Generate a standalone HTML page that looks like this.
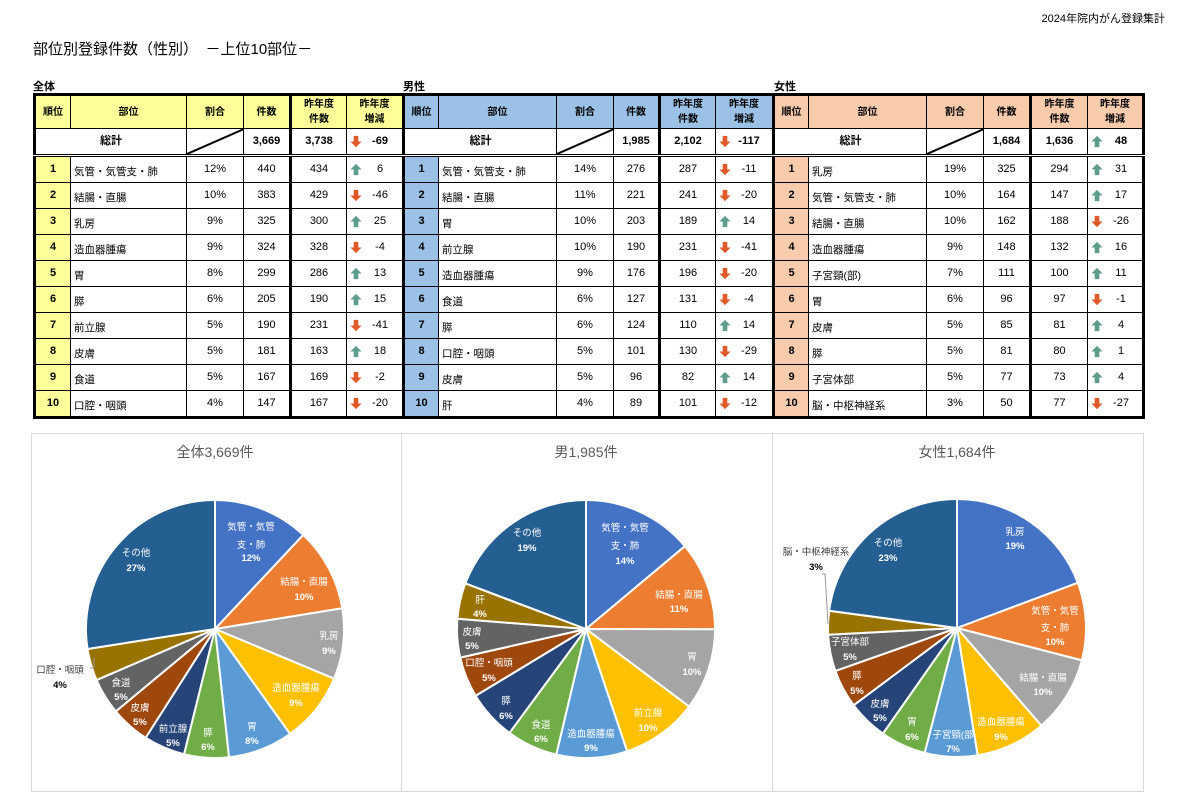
<!DOCTYPE html>
<html><head><meta charset="utf-8">
<style>
body{margin:0;width:1180px;height:799px;background:#fff;position:relative;overflow:hidden;font-family:"Liberation Sans","Noto Sans CJK JP",sans-serif;color:#000}
.a{position:absolute;white-space:nowrap}
table{position:absolute;left:33px;top:93px;border-collapse:collapse;table-layout:fixed;font-size:10px}
td{border:1px solid #000;padding:0;text-align:center;overflow:hidden;white-space:nowrap;line-height:13px}
tr.h td{height:32px;font-weight:bold;line-height:15px}
tr.t td{height:25px;font-weight:bold;font-size:11px}
tr.r td{height:25px;font-size:11px}
tr.r td.n{text-align:left;padding-left:3px;padding-top:6px;height:19px;font-size:10.5px}
tr.r1 td{border-top:3px double #000}
td.bl{border-left:3px solid #000}
td.c1{background:#FFFF99}td.c2{background:#9BC2E6}td.c3{background:#F8CBAD}
td.b{font-weight:bold}
.up,.dn{display:inline-block;width:14px;height:13px;vertical-align:middle}
td.d{text-align:left;padding-left:2px}
td.d span.v{display:inline-block;width:34px;text-align:center;vertical-align:middle}
.box{position:absolute;top:433px;height:357px;border:1px solid #d9d9d9}
</style></head><body>
<div class="a" style="right:15px;top:10px;font-size:11px">2024年院内がん登録集計</div>
<div class="a" style="left:33px;top:38px;font-size:15px">部位別登録件数（性別）　－上位10部位－</div>
<div class="a" style="left:33px;top:78px;font-size:11px;font-weight:bold">全体</div>
<div class="a" style="left:403px;top:78px;font-size:11px;font-weight:bold">男性</div>
<div class="a" style="left:774px;top:78px;font-size:11px;font-weight:bold">女性</div>
<svg width="0" height="0" style="position:absolute"><defs>
<symbol id="u" viewBox="0 0 14 14"><path d="M7 1 L13 7 L9.5 7 L9.5 13 L4.5 13 L4.5 7 L1 7Z" fill="#5E9C8C"/></symbol>
<symbol id="w" viewBox="0 0 14 14"><path d="M7 13 L13 7 L9.5 7 L9.5 1 L4.5 1 L4.5 7 L1 7Z" fill="#E0592A"/></symbol>
</defs></svg>
<div class="box" style="left:31px;width:369px"></div>
<div class="box" style="left:401px;width:370px"></div>
<div class="box" style="left:772px;width:370px"></div>
<table style="width:1111px;border:3px solid #000">
<colgroup><col style="width:36px"><col style="width:116px"><col style="width:57px"><col style="width:47px"><col style="width:56px"><col style="width:57px"><col style="width:35px"><col style="width:118px"><col style="width:57px"><col style="width:46px"><col style="width:56px"><col style="width:58px"><col style="width:35px"><col style="width:118px"><col style="width:57px"><col style="width:47px"><col style="width:57px"><col style="width:56px"></colgroup>
<tr class="h">
<td class="c1">順位</td><td class="c1">部位</td><td class="c1">割合</td><td class="c1">件数</td><td class="c1 bl">昨年度<br>件数</td><td class="c1">昨年度<br>増減</td>
<td class="c2 bl">順位</td><td class="c2">部位</td><td class="c2">割合</td><td class="c2">件数</td><td class="c2 bl">昨年度<br>件数</td><td class="c2">昨年度<br>増減</td>
<td class="c3 bl">順位</td><td class="c3">部位</td><td class="c3">割合</td><td class="c3">件数</td><td class="c3 bl">昨年度<br>件数</td><td class="c3">昨年度<br>増減</td></tr>
<tr class="t">
<td colspan="2">総計</td><td><svg width="57" height="25" style="display:block"><line x1="0" y1="25" x2="57" y2="0" stroke="#000" stroke-width="2"/></svg></td><td>3,669</td><td class="bl">3,738</td><td class="d"><svg class="dn"><use href="#w"/></svg><span class="v">-69</span></td>
<td colspan="2" class="bl">総計</td><td><svg width="57" height="25" style="display:block"><line x1="0" y1="25" x2="57" y2="0" stroke="#000" stroke-width="2"/></svg></td><td>1,985</td><td class="bl">2,102</td><td class="d"><svg class="dn"><use href="#w"/></svg><span class="v">-117</span></td>
<td colspan="2" class="bl">総計</td><td><svg width="57" height="25" style="display:block"><line x1="0" y1="25" x2="57" y2="0" stroke="#000" stroke-width="2"/></svg></td><td>1,684</td><td class="bl">1,636</td><td class="d"><svg class="up"><use href="#u"/></svg><span class="v">48</span></td></tr>
<tr class="r r1"><td class="c1 b">1</td><td class="n">気管・気管支・肺</td><td>12%</td><td>440</td><td class="bl">434</td><td class="d"><svg class="up"><use href="#u"/></svg><span class="v">6</span></td><td class="c2 b bl">1</td><td class="n">気管・気管支・肺</td><td>14%</td><td>276</td><td class="bl">287</td><td class="d"><svg class="dn"><use href="#w"/></svg><span class="v">-11</span></td><td class="c3 b bl">1</td><td class="n">乳房</td><td>19%</td><td>325</td><td class="bl">294</td><td class="d"><svg class="up"><use href="#u"/></svg><span class="v">31</span></td></tr>
<tr class="r"><td class="c1 b">2</td><td class="n">結腸・直腸</td><td>10%</td><td>383</td><td class="bl">429</td><td class="d"><svg class="dn"><use href="#w"/></svg><span class="v">-46</span></td><td class="c2 b bl">2</td><td class="n">結腸・直腸</td><td>11%</td><td>221</td><td class="bl">241</td><td class="d"><svg class="dn"><use href="#w"/></svg><span class="v">-20</span></td><td class="c3 b bl">2</td><td class="n">気管・気管支・肺</td><td>10%</td><td>164</td><td class="bl">147</td><td class="d"><svg class="up"><use href="#u"/></svg><span class="v">17</span></td></tr>
<tr class="r"><td class="c1 b">3</td><td class="n">乳房</td><td>9%</td><td>325</td><td class="bl">300</td><td class="d"><svg class="up"><use href="#u"/></svg><span class="v">25</span></td><td class="c2 b bl">3</td><td class="n">胃</td><td>10%</td><td>203</td><td class="bl">189</td><td class="d"><svg class="up"><use href="#u"/></svg><span class="v">14</span></td><td class="c3 b bl">3</td><td class="n">結腸・直腸</td><td>10%</td><td>162</td><td class="bl">188</td><td class="d"><svg class="dn"><use href="#w"/></svg><span class="v">-26</span></td></tr>
<tr class="r"><td class="c1 b">4</td><td class="n">造血器腫瘍</td><td>9%</td><td>324</td><td class="bl">328</td><td class="d"><svg class="dn"><use href="#w"/></svg><span class="v">-4</span></td><td class="c2 b bl">4</td><td class="n">前立腺</td><td>10%</td><td>190</td><td class="bl">231</td><td class="d"><svg class="dn"><use href="#w"/></svg><span class="v">-41</span></td><td class="c3 b bl">4</td><td class="n">造血器腫瘍</td><td>9%</td><td>148</td><td class="bl">132</td><td class="d"><svg class="up"><use href="#u"/></svg><span class="v">16</span></td></tr>
<tr class="r"><td class="c1 b">5</td><td class="n">胃</td><td>8%</td><td>299</td><td class="bl">286</td><td class="d"><svg class="up"><use href="#u"/></svg><span class="v">13</span></td><td class="c2 b bl">5</td><td class="n">造血器腫瘍</td><td>9%</td><td>176</td><td class="bl">196</td><td class="d"><svg class="dn"><use href="#w"/></svg><span class="v">-20</span></td><td class="c3 b bl">5</td><td class="n">子宮頸(部)</td><td>7%</td><td>111</td><td class="bl">100</td><td class="d"><svg class="up"><use href="#u"/></svg><span class="v">11</span></td></tr>
<tr class="r"><td class="c1 b">6</td><td class="n">膵</td><td>6%</td><td>205</td><td class="bl">190</td><td class="d"><svg class="up"><use href="#u"/></svg><span class="v">15</span></td><td class="c2 b bl">6</td><td class="n">食道</td><td>6%</td><td>127</td><td class="bl">131</td><td class="d"><svg class="dn"><use href="#w"/></svg><span class="v">-4</span></td><td class="c3 b bl">6</td><td class="n">胃</td><td>6%</td><td>96</td><td class="bl">97</td><td class="d"><svg class="dn"><use href="#w"/></svg><span class="v">-1</span></td></tr>
<tr class="r"><td class="c1 b">7</td><td class="n">前立腺</td><td>5%</td><td>190</td><td class="bl">231</td><td class="d"><svg class="dn"><use href="#w"/></svg><span class="v">-41</span></td><td class="c2 b bl">7</td><td class="n">膵</td><td>6%</td><td>124</td><td class="bl">110</td><td class="d"><svg class="up"><use href="#u"/></svg><span class="v">14</span></td><td class="c3 b bl">7</td><td class="n">皮膚</td><td>5%</td><td>85</td><td class="bl">81</td><td class="d"><svg class="up"><use href="#u"/></svg><span class="v">4</span></td></tr>
<tr class="r"><td class="c1 b">8</td><td class="n">皮膚</td><td>5%</td><td>181</td><td class="bl">163</td><td class="d"><svg class="up"><use href="#u"/></svg><span class="v">18</span></td><td class="c2 b bl">8</td><td class="n">口腔・咽頭</td><td>5%</td><td>101</td><td class="bl">130</td><td class="d"><svg class="dn"><use href="#w"/></svg><span class="v">-29</span></td><td class="c3 b bl">8</td><td class="n">膵</td><td>5%</td><td>81</td><td class="bl">80</td><td class="d"><svg class="up"><use href="#u"/></svg><span class="v">1</span></td></tr>
<tr class="r"><td class="c1 b">9</td><td class="n">食道</td><td>5%</td><td>167</td><td class="bl">169</td><td class="d"><svg class="dn"><use href="#w"/></svg><span class="v">-2</span></td><td class="c2 b bl">9</td><td class="n">皮膚</td><td>5%</td><td>96</td><td class="bl">82</td><td class="d"><svg class="up"><use href="#u"/></svg><span class="v">14</span></td><td class="c3 b bl">9</td><td class="n">子宮体部</td><td>5%</td><td>77</td><td class="bl">73</td><td class="d"><svg class="up"><use href="#u"/></svg><span class="v">4</span></td></tr>
<tr class="r"><td class="c1 b">10</td><td class="n">口腔・咽頭</td><td>4%</td><td>147</td><td class="bl">167</td><td class="d"><svg class="dn"><use href="#w"/></svg><span class="v">-20</span></td><td class="c2 b bl">10</td><td class="n">肝</td><td>4%</td><td>89</td><td class="bl">101</td><td class="d"><svg class="dn"><use href="#w"/></svg><span class="v">-12</span></td><td class="c3 b bl">10</td><td class="n">脳・中枢神経系</td><td>3%</td><td>50</td><td class="bl">77</td><td class="d"><svg class="dn"><use href="#w"/></svg><span class="v">-27</span></td></tr>
</table>

<svg id="pies" class="a" style="left:0;top:0" width="1180" height="799" font-family="Liberation Sans,Noto Sans CJK JP,sans-serif">
<g id="slices"></g>
<g font-size="14" fill="#595959" text-anchor="middle">
<text x="215" y="457">全体3,669件</text><text x="586" y="457">男1,985件</text><text x="957" y="457">女性1,684件</text></g>
<g fill="#fff" font-size="9.5" text-anchor="middle">
<text x="251" y="530">気管・気管</text><text x="251" y="548">支・肺</text><text x="251" y="561" font-weight="bold">12%</text>
<text x="304" y="585">結腸・直腸</text><text x="304" y="600" font-weight="bold">10%</text>
<text x="329" y="639">乳房</text><text x="329" y="654" font-weight="bold">9%</text>
<text x="296" y="691">造血器腫瘍</text><text x="296" y="706" font-weight="bold">9%</text>
<text x="252" y="730">胃</text><text x="252" y="744" font-weight="bold">8%</text>
<text x="208" y="736">膵</text><text x="208" y="750" font-weight="bold">6%</text>
<text x="173" y="732">前立腺</text><text x="173" y="746" font-weight="bold">5%</text>
<text x="140" y="711">皮膚</text><text x="140" y="725" font-weight="bold">5%</text>
<text x="121" y="686">食道</text><text x="121" y="700" font-weight="bold">5%</text>
<text x="136" y="556">その他</text><text x="136" y="571" font-weight="bold">27%</text>

<text x="625" y="531">気管・気管</text><text x="625" y="549">支・肺</text><text x="625" y="564" font-weight="bold">14%</text>
<text x="679" y="598">結腸・直腸</text><text x="679" y="612" font-weight="bold">11%</text>
<text x="692" y="660">胃</text><text x="692" y="675" font-weight="bold">10%</text>
<text x="648" y="716">前立腺</text><text x="648" y="731" font-weight="bold">10%</text>
<text x="591" y="737">造血器腫瘍</text><text x="591" y="751" font-weight="bold">9%</text>
<text x="541" y="728">食道</text><text x="541" y="742" font-weight="bold">6%</text>
<text x="506" y="704">膵</text><text x="506" y="719" font-weight="bold">6%</text>
<text x="489" y="666">口腔・咽頭</text><text x="489" y="681" font-weight="bold">5%</text>
<text x="472" y="635">皮膚</text><text x="472" y="649" font-weight="bold">5%</text>
<text x="480" y="603">肝</text><text x="480" y="617" font-weight="bold">4%</text>
<text x="527" y="536">その他</text><text x="527" y="551" font-weight="bold">19%</text>

<text x="1015" y="535">乳房</text><text x="1015" y="549" font-weight="bold">19%</text>
<text x="1055" y="614">気管・気管</text><text x="1055" y="631">支・肺</text><text x="1055" y="645" font-weight="bold">10%</text>
<text x="1043" y="681">結腸・直腸</text><text x="1043" y="695" font-weight="bold">10%</text>
<text x="1001" y="725">造血器腫瘍</text><text x="1001" y="740" font-weight="bold">9%</text>
<text x="953" y="738">子宮頸(部</text><text x="953" y="752" font-weight="bold">7%</text>
<text x="912" y="725">胃</text><text x="912" y="740" font-weight="bold">6%</text>
<text x="880" y="707">皮膚</text><text x="880" y="721" font-weight="bold">5%</text>
<text x="857" y="679">膵</text><text x="857" y="694" font-weight="bold">5%</text>
<text x="850" y="645">子宮体部</text><text x="850" y="660" font-weight="bold">5%</text>
<text x="888" y="546">その他</text><text x="888" y="561" font-weight="bold">23%</text>
</g>
<g fill="#404040" font-size="9.5" text-anchor="middle">
<text x="60" y="673">口腔・咽頭</text><text x="60" y="688" font-weight="bold" fill="#000">4%</text>
<text x="816" y="555">脳・中枢神経系</text><text x="816" y="570" font-weight="bold" fill="#000">3%</text>
</g>
<path d="M90 668 L94 668 L94 658" stroke="#999" fill="none"/>
<path d="M822 574 L825 574 L828 624" stroke="#999" fill="none"/>
</svg>
<script>
(function(){
var cols=["#4472C4","#ED7D31","#A5A5A5","#FFC000","#5B9BD5","#70AD47","#264478","#9E480E","#636363","#997300","#255E91"];
var charts=[
 {cx:215,cy:629,v:[440,383,325,324,299,205,190,181,167,147,1008]},
 {cx:586,cy:629,v:[276,221,203,190,176,127,124,101,96,89,382]},
 {cx:957,cy:628,v:[325,164,162,148,111,96,85,81,77,50,385]}];
var r=129,g=document.getElementById('slices'),s='';
charts.forEach(function(c){
 var t=c.v.reduce(function(a,b){return a+b},0),a=0;
 c.v.forEach(function(v,i){
  var a0=a/t*2*Math.PI,a1=(a+v)/t*2*Math.PI;a+=v;
  var x0=c.cx+r*Math.sin(a0),y0=c.cy-r*Math.cos(a0),x1=c.cx+r*Math.sin(a1),y1=c.cy-r*Math.cos(a1);
  s+='<path d="M'+c.cx+' '+c.cy+' L'+x0.toFixed(2)+' '+y0.toFixed(2)+' A'+r+' '+r+' 0 '+((a1-a0)>Math.PI?1:0)+' 1 '+x1.toFixed(2)+' '+y1.toFixed(2)+'Z" fill="'+cols[i]+'" stroke="#fff" stroke-width="2"/>';
 });
});
g.innerHTML=s;
})();
</script>
</body></html>
